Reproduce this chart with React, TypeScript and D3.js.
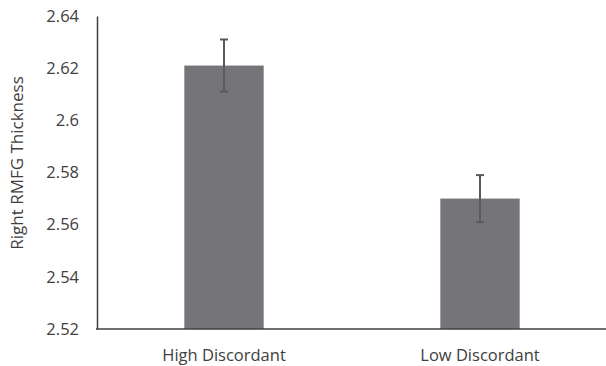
import React, { useRef, useEffect } from 'react';
import * as d3 from 'd3';

const categories = ['High Discordant', 'Low Discordant'];
const means = [2.621, 2.570];
const errors = [0.010, 0.009];
const yTicks = [2.52, 2.54, 2.56, 2.58, 2.6, 2.62, 2.64];

function App() {
  const canvas = useRef<HTMLDivElement>(null);

  useEffect(() => {
    const width = 606;
    const height = 366;
    const font = "'Open Sans', sans-serif";
    const textColor = '#404040';

    d3.select(canvas.current).select('svg').remove();
    const svg = d3
      .select(canvas.current)
      .append('svg')
      .attr('width', width)
      .attr('height', height)
      .style('display', 'block');

    const x = d3.scaleBand().domain(categories).range([96, 608]).paddingInner(0.69).paddingOuter(0.345);
    const y = d3.scaleLinear().domain([2.52, 2.64]).range([329, 16]);

    // bars
    svg
      .selectAll('rect.bar')
      .data(categories)
      .enter()
      .append('rect')
      .attr('class', 'bar')
      .attr('x', (d) => x(d)!)
      .attr('y', (d, i) => y(means[i]))
      .attr('width', x.bandwidth())
      .attr('height', (d, i) => y(2.52) - y(means[i]))
      .attr('fill', '#757579');

    // error bars
    const err = svg
      .selectAll('g.err')
      .data(categories)
      .enter()
      .append('g')
      .attr('class', 'err')
      .attr('stroke', '#5a5a5e')
      .attr('stroke-width', 2);
    err
      .append('line')
      .attr('x1', (d) => x(d)! + x.bandwidth() / 2)
      .attr('x2', (d) => x(d)! + x.bandwidth() / 2)
      .attr('y1', (d, i) => y(means[i] + errors[i]))
      .attr('y2', (d, i) => y(means[i] - errors[i]));
    err
      .selectAll('line.cap')
      .data((d, i) => [
        { c: d, v: means[i] + errors[i] },
        { c: d, v: means[i] - errors[i] },
      ])
      .enter()
      .append('line')
      .attr('class', 'cap')
      .attr('x1', (d) => x(d.c)! + x.bandwidth() / 2 - 4)
      .attr('x2', (d) => x(d.c)! + x.bandwidth() / 2 + 4)
      .attr('y1', (d) => y(d.v))
      .attr('y2', (d) => y(d.v));

    // y axis
    const yAxis = svg
      .append('g')
      .attr('transform', 'translate(97,0)')
      .call(d3.axisLeft(y).tickValues(yTicks).tickSize(0).tickPadding(18).tickFormat((d) => String(d)));
    yAxis.select('.domain').attr('stroke', '#404040').attr('stroke-width', 1.5);
    yAxis.selectAll('text').attr('font-family', font).attr('font-size', 16.5).attr('fill', textColor);

    // x axis
    const xAxis = svg
      .append('g')
      .attr('transform', 'translate(0,329)')
      .call(d3.axisBottom(x).tickSize(0).tickPadding(20));
    xAxis.select('.domain').attr('d', 'M96,0H606').attr('stroke', '#404040').attr('stroke-width', 1.5);
    xAxis.selectAll('text').attr('font-family', font).attr('font-size', 16.5).attr('fill', textColor);

    svg
      .append('text')
      .attr('transform', 'translate(23,163) rotate(-90)')
      .attr('text-anchor', 'middle')
      .attr('font-family', font)
      .attr('font-size', 17)
      .attr('fill', textColor)
      .text('Right RMFG Thickness');
  }, []);

  return <div ref={canvas} style={{ position: 'absolute', left: 0, top: 0 }}></div>;
}

export default App;
